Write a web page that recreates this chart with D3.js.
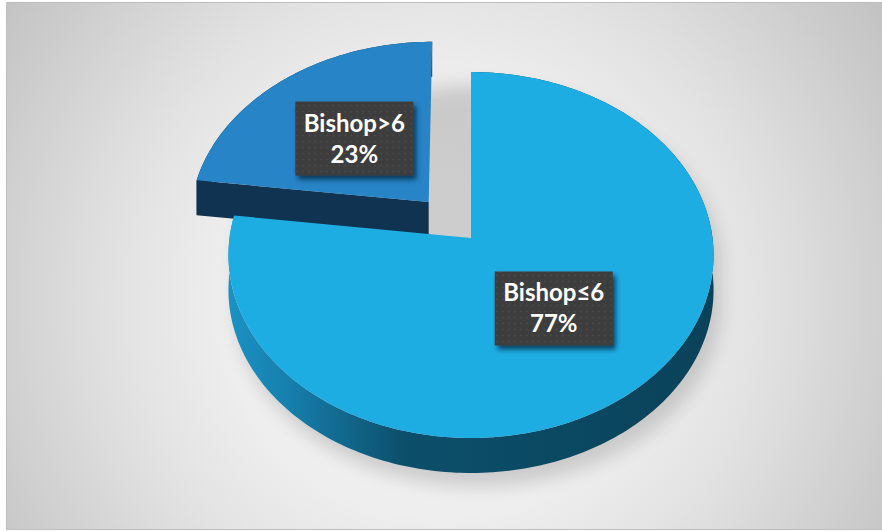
<!DOCTYPE html>
<html><head><meta charset="utf-8">
<script src="https://cdn.jsdelivr.net/npm/d3@7"></script>
<style>html,body{margin:0;padding:0;background:#fff;}svg{display:block;}</style>
</head><body>
<svg id="chart" width="882" height="531"></svg>
<script>
// Slice data
const categories = ["Bishop≤6", "Bishop>6"];
const values = [77, 23];
const explode = [0, 0.27];              // outward offset of each slice, fraction of radius
const topColors = ["#1eade3", "#2784c6"];
const faceColors = ["#0c4a66", "#0f3350"];

const W = 882, H = 531;
const svg = d3.select("#chart");
const defs = svg.append("defs");

// 3D projection of the pie plane: u to the right, v toward the viewer, z downward
const cx = 471, cy = 238, rx = 241.5, ry = 181.4, persp = 0.093, depth = 35;
function project(u, v, z) {
  const s = 1 / (1 - persp * v);
  return [cx + rx * u * s, cy + ry * v * s + z];
}
function ringPoint(a, r, off, z) {
  return project(off[0] + r * Math.sin(a), off[1] - r * Math.cos(a), z);
}
function arcPoints(a0, a1, off, z) {
  const n = Math.max(8, Math.ceil((a1 - a0) / 0.02));
  return d3.range(n + 1).map(i => ringPoint(a0 + (a1 - a0) * i / n, 1, off, z));
}
const line = d3.line().curve(d3.curveLinear);
const closed = pts => line(pts) + "Z";

// Background gradient
const bg = defs.append("radialGradient").attr("id", "bgGrad")
  .attr("gradientUnits", "userSpaceOnUse").attr("cx", 440).attr("cy", 300).attr("r", 540);
[[0, "#f6f6f6"], [0.4, "#eeeeee"], [0.6, "#e2e2e2"], [1, "#c1c1c1"]]
  .forEach(([o, c]) => bg.append("stop").attr("offset", o).attr("stop-color", c));

svg.append("rect").attr("width", W).attr("height", H).attr("fill", "#ffffff");
svg.append("rect").attr("x", 6.5).attr("y", 2.5).attr("width", W - 6).attr("height", H - 4)
  .attr("fill", "url(#bgGrad)").attr("stroke", "#bdbdbd").attr("stroke-width", 1);

// Side gradient for the big slice wall
const sideGrad = defs.append("linearGradient").attr("id", "sideGrad")
  .attr("gradientUnits", "userSpaceOnUse").attr("x1", 228).attr("x2", 714).attr("y1", 0).attr("y2", 0);
[[0, "#1b92c3"], [0.12, "#1680ae"], [0.36, "#0c4f6b"], [1, "#0a4259"]]
  .forEach(([o, c]) => sideGrad.append("stop").attr("offset", o).attr("stop-color", c));

// Shadow blur
defs.append("filter").attr("id", "pieShadow").attr("x", "-20%").attr("y", "-20%")
  .attr("width", "140%").attr("height", "140%")
  .append("feGaussianBlur").attr("stdDeviation", 9);

// Label box shadow and dotted texture
const ls = defs.append("filter").attr("id", "labelShadow").attr("x", "-20%").attr("y", "-20%")
  .attr("width", "150%").attr("height", "150%");
ls.append("feDropShadow").attr("dx", 3).attr("dy", 4).attr("stdDeviation", 2.5)
  .attr("flood-color", "#06223a").attr("flood-opacity", 0.75);
const pat = defs.append("pattern").attr("id", "dots").attr("patternUnits", "userSpaceOnUse")
  .attr("width", 6).attr("height", 6);
pat.append("rect").attr("width", 6).attr("height", 6).attr("fill", "#3c3c3c");
pat.append("circle").attr("cx", 3).attr("cy", 3).attr("r", 0.9).attr("fill", "#4d4d4d");

const pie = d3.pie().sort(null).value(d => d).startAngle(0).endAngle(2 * Math.PI);
const arcs = pie(values).map((d, i) => {
  const mid = (d.startAngle + d.endAngle) / 2;
  return { ...d, i, mid, off: [explode[i] * Math.sin(mid), -explode[i] * Math.cos(mid)] };
});

// Soft shadow of the whole disk on the backdrop
const shadow = svg.append("g").attr("filter", "url(#pieShadow)").attr("opacity", 0.15)
  .attr("transform", "translate(7,13)");
const full = arcPoints(0, 2 * Math.PI, [0, 0], 0);
const fullLow = arcPoints(0, 2 * Math.PI, [0, 0], depth);
shadow.append("path").attr("d", closed(full)).attr("fill", "#000");
shadow.append("path").attr("d", closed(fullLow)).attr("fill", "#000");
shadow.append("path").attr("d", closed(arcPoints(Math.PI / 2, 3 * Math.PI / 2, [0, 0], 0)
  .concat(arcPoints(Math.PI / 2, 3 * Math.PI / 2, [0, 0], depth).reverse()))).attr("fill", "#000");

// Slices drawn back to front: farther (exploded) slice first
const order = arcs.slice().sort((a, b) => a.off[1] - b.off[1]);
const pieG = svg.append("g");
order.forEach(d => {
  const g = pieG.append("g");
  const top = arcPoints(d.startAngle, d.endAngle, d.off, 0);
  const low = arcPoints(d.startAngle, d.endAngle, d.off, depth);
  // outer wall
  g.append("path").attr("d", closed(top.concat(low.slice().reverse())))
    .attr("fill", d.i === 0 ? "url(#sideGrad)" : faceColors[d.i]);
  // radial cut faces that turn toward the viewer
  [[d.startAngle, d.startAngle - Math.PI / 2], [d.endAngle, d.endAngle + Math.PI / 2]].forEach(([a, n]) => {
    if (Math.cos(n) < -0.01) {
      const c0 = project(d.off[0], d.off[1], 0), c1 = project(d.off[0], d.off[1], depth);
      const e0 = ringPoint(a, 1, d.off, 0), e1 = ringPoint(a, 1, d.off, depth);
      g.append("path").attr("d", closed([c0, e0, e1, c1])).attr("fill", faceColors[d.i]);
    }
  });
  // top face
  const c = project(d.off[0], d.off[1], 0);
  g.append("path").attr("d", closed([c].concat(top))).attr("fill", topColors[d.i]);
});

// Data labels
const total = d3.sum(values);
const labelG = svg.append("g");
arcs.forEach(d => {
  const [lx, ly] = ringPoint(d.mid, 0.5, d.off, 0);
  const g = labelG.append("g").attr("transform", `translate(${lx},${ly})`);
  const box = g.append("rect").attr("fill", "url(#dots)").attr("filter", "url(#labelShadow)");
  const t1 = g.append("text").attr("y", -7).text(categories[d.i]);
  const t2 = g.append("text").attr("y", 24).text(Math.round(d.value / total * 100) + "%");
  g.selectAll("text").attr("text-anchor", "middle").attr("fill", "#ffffff")
    .attr("font-family", "Lato, 'Open Sans', sans-serif").attr("font-weight", "bold").attr("font-size", 24);
  const w = Math.max(t1.node().getComputedTextLength(), t2.node().getComputedTextLength()) + 17;
  box.attr("x", -w / 2).attr("y", -37).attr("width", w).attr("height", 74);
});
</script>
</body></html>
